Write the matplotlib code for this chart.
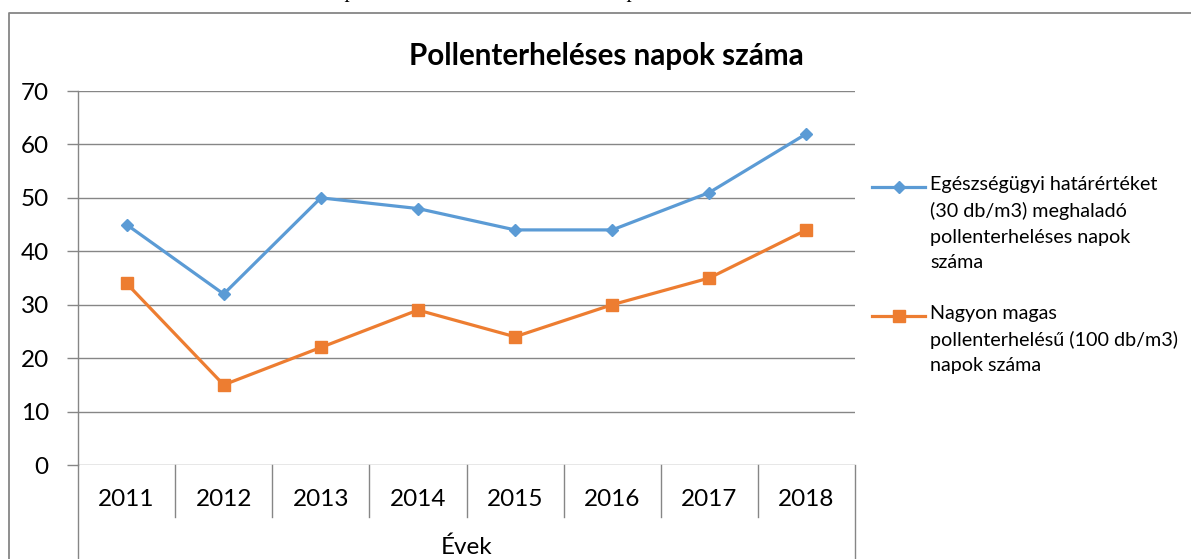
import matplotlib
matplotlib.use("Agg")
import matplotlib.pyplot as plt
from matplotlib.lines import Line2D

years = ["2011", "2012", "2013", "2014", "2015", "2016", "2017", "2018"]
series_health = [45, 32, 50, 48, 44, 44, 51, 62]
series_high = [34, 15, 22, 29, 24, 30, 35, 44]
label_health = "Egészségügyi határértéket\n(30 db/m3) meghaladó\npollenterheléses napok\nszáma"
label_high = "Nagyon magas\npollenterhelésű (100 db/m3)\nnapok száma"
title = "Pollenterheléses napok száma"
xlabel = "Évek"
yticks = [0, 10, 20, 30, 40, 50, 60, 70]

FONT = ["Lato", "DejaVu Sans"]
plt.rcParams["font.family"] = FONT

W, H = 1191, 559
fig = plt.figure(figsize=(W / 100, H / 100), dpi=100)

def fx(px):
    return px / W

def fy(py):
    return 1 - py / H

# plot area in pixels
L, R, T, B = 78, 855, 91, 465
ax = fig.add_axes([fx(L), fy(B), fx(R - L), (B - T) / H])

blue = "#5B9BD5"
orange = "#ED7D31"
grid_c = "#868686"
TICK_FS = 17.5

xs = list(range(len(years)))
ax.plot(xs, series_health, color=blue, lw=2.3, marker="D", ms=6, label=label_health, zorder=3)
ax.plot(xs, series_high, color=orange, lw=2.3, marker="s", ms=8, label=label_high, zorder=3)

ax.set_xlim(-0.5, len(years) - 0.5)
ax.set_ylim(0, 70)
ax.set_yticks(yticks)
ax.set_yticklabels([str(v) for v in yticks], fontsize=TICK_FS)
ax.yaxis.grid(True, color=grid_c, lw=1)
ax.set_axisbelow(True)
ax.tick_params(axis="y", length=8, color=grid_c, width=1, pad=13)
ax.set_xticks([])
for s in ["top", "right", "bottom"]:
    ax.spines[s].set_visible(False)
ax.spines["left"].set_color(grid_c)
ax.spines["left"].set_linewidth(1)

# category level: year labels and dividers
for i, y in enumerate(years):
    ax.text(i, -(500 - B) / (B - T), y, transform=ax.get_xaxis_transform(), ha="center", va="center",
            fontsize=TICK_FS, clip_on=False)
for i in range(1, len(years)):
    ax.plot([i - 0.5, i - 0.5], [0, -(517 - B) / (B - T)], transform=ax.get_xaxis_transform(),
            color=grid_c, lw=1, clip_on=False)
# outer axis lines extending down
fig.add_artist(Line2D([fx(L), fx(L)], [fy(B), fy(H + 5)], color=grid_c, lw=1))
fig.add_artist(Line2D([fx(R), fx(R)], [fy(B), fy(H + 5)], color=grid_c, lw=1))

fig.text(fx((L + R) / 2), fy(H - 1), xlabel, ha="center", va="bottom", fontsize=TICK_FS)

# title
fig.text(fx(606), fy(56), title, ha="center", va="center", fontsize=21.3, fontweight="bold")

# legend (Excel style: handle aligned with first text line)
LEG_FS = 14.2
entries = [
    (ax.lines[0], label_health, 187),
    (ax.lines[1], label_high, 316),
]
for line, text, yc in entries:
    fig.add_artist(Line2D([fx(872), fx(925)], [fy(yc), fy(yc)], color=line.get_color(), lw=line.get_linewidth()))
    fig.add_artist(Line2D([fx(898.5)], [fy(yc)], color=line.get_color(), marker=line.get_marker(),
                          ms=line.get_markersize(), ls="none"))
    fig.text(fx(930), fy(yc - 11), text, ha="left", va="top", fontsize=LEG_FS, linespacing=1.6)

# outer chart frame
fig.add_artist(Line2D([fx(9), fx(9), 1.01], [fy(H + 5), fy(13), fy(13)], color="#868686", lw=1.3))

# cut-off caption text at top
fig.text(fx(350), fy(-3), "p", ha="center", va="baseline", fontsize=15, style="italic",
         family=["Liberation Serif", "DejaVu Serif"])
fig.text(fx(632), fy(-3), "p", ha="center", va="baseline", fontsize=15, style="italic",
         family=["Liberation Serif", "DejaVu Serif"])

fig.savefig("out.png", dpi=100)
